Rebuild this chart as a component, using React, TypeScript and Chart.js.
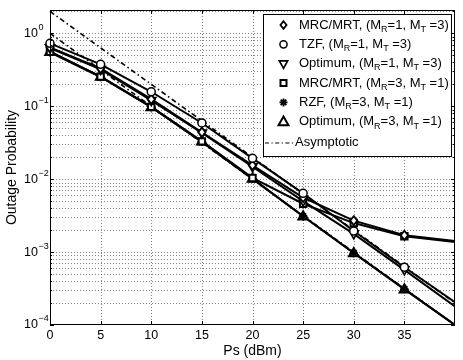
import React, { useEffect, useRef } from 'react';
import { Chart, registerables } from 'chart.js';

Chart.register(...registerables);

// ---------------- data ----------------
const psDbm = [0, 5, 10, 15, 20, 25, 30, 35, 40];

const mrcA = [0.64, 0.33, 0.125, 0.044, 0.0155, 0.0056, 0.0027, 0.0017, 0.00142];
const tzfA = [0.73, 0.376, 0.158, 0.059, 0.0193, 0.0064, 0.00195, 0.00062, 0.000205];
const optA = [0.63, 0.32, 0.12, 0.043, 0.0148, 0.0050, 0.00178, 0.00057, 0.00018];
const mrcB = [0.56, 0.255, 0.098, 0.033, 0.0104, 0.0046, 0.0025, 0.00165, 0.00138];
const rzfB = [0.55, 0.252, 0.097, 0.0325, 0.0101, 0.0031, 0.00097, 0.00031, 0.0001];
const optB = [0.56, 0.255, 0.098, 0.033, 0.0102, 0.0031, 0.00097, 0.00031, 0.0001];
const asymA = [2, 0.632, 0.2, 0.0632, 0.02, 0.00632, 0.002, 0.000632, 0.0002];
const asymB = [1, 0.316, 0.1, 0.0316, 0.01, 0.00316, 0.001, 0.000316, 0.0001];

const xTicks = [0, 5, 10, 15, 20, 25, 30, 35];
const yDecades = [1, 0.1, 0.01, 0.001, 0.0001];
const yDecadeExps = ['0', '\u22121', '\u22122', '\u22123', '\u22124'];

const legendLabels = [
  'MRC/MRT, (M_R=1, M_T =3)',
  'TZF, (M_R=1, M_T =3)',
  'Optimum, (M_R=1, M_T =3)',
  'MRC/MRT, (M_R=3, M_T =1)',
  'RZF, (M_R=3, M_T =1)',
  'Optimum, (M_R=3, M_T =1)',
  'Asymptotic',
];

const xTitle = 'Ps (dBm)';
const yTitle = 'Outage Probability';

const FONT = '"Liberation Sans", Arial, Helvetica, sans-serif';

type Marker = 'diamond' | 'circle' | 'triDown' | 'square' | 'star' | 'triUp' | 'none';

const seriesDefs: { data: number[]; marker: Marker; size: number; dash?: number[]; width: number }[] = [
  { data: mrcA, marker: 'diamond', size: 4.5, width: 2 },
  { data: tzfA, marker: 'circle', size: 4, width: 2 },
  { data: optA, marker: 'triDown', size: 5, width: 2 },
  { data: mrcB, marker: 'square', size: 3.2, width: 2 },
  { data: rzfB, marker: 'star', size: 4.2, width: 2 },
  { data: optB, marker: 'triUp', size: 5, width: 2 },
  { data: asymA, marker: 'none', size: 0, dash: [5, 3, 1.5, 3], width: 1.6 },
  { data: asymB, marker: 'none', size: 0, dash: [5, 3, 1.5, 3], width: 1.6 },
];

// order in which markers are painted (last = on top)
const markerPaintOrder = [5, 4, 3, 2, 0, 1];

function drawMarker(ctx: CanvasRenderingContext2D, m: Marker, x: number, y: number, r: number) {
  if (m === 'none') return;
  ctx.save();
  ctx.setLineDash([]);
  ctx.strokeStyle = '#000';
  ctx.fillStyle = '#fff';
  ctx.lineWidth = 1.5;
  ctx.beginPath();
  if (m === 'diamond') {
    ctx.lineWidth = 1.8;
    ctx.moveTo(x, y - r);
    ctx.lineTo(x + r * 0.8, y);
    ctx.lineTo(x, y + r);
    ctx.lineTo(x - r * 0.8, y);
    ctx.closePath();
    ctx.fill();
    ctx.stroke();
  } else if (m === 'circle') {
    ctx.arc(x, y, r, 0, Math.PI * 2);
    ctx.fill();
    ctx.stroke();
  } else if (m === 'triDown') {
    ctx.lineWidth = 1.7;
    ctx.moveTo(x, y + r);
    ctx.lineTo(x + r * 0.9, y - r * 0.6);
    ctx.lineTo(x - r * 0.9, y - r * 0.6);
    ctx.closePath();
    ctx.fill();
    ctx.stroke();
  } else if (m === 'triUp') {
    ctx.lineWidth = 2;
    ctx.moveTo(x, y - r);
    ctx.lineTo(x + r * 0.95, y + r * 0.65);
    ctx.lineTo(x - r * 0.95, y + r * 0.65);
    ctx.closePath();
    ctx.fill();
    ctx.stroke();
  } else if (m === 'square') {
    ctx.lineWidth = 2;
    ctx.rect(x - r, y - r, 2 * r, 2 * r);
    ctx.fill();
    ctx.stroke();
  } else if (m === 'star') {
    ctx.lineWidth = 1.8;
    for (let k = 0; k < 4; k++) {
      const a = (k * Math.PI) / 4;
      ctx.moveTo(x - r * Math.cos(a), y - r * Math.sin(a));
      ctx.lineTo(x + r * Math.cos(a), y + r * Math.sin(a));
    }
    ctx.stroke();
  }
  ctx.restore();
}

function drawRichText(ctx: CanvasRenderingContext2D, text: string, x: number, y: number, size: number) {
  // "_X" => subscript single char
  let cx = x;
  let i = 0;
  while (i < text.length) {
    if (text[i] === '_' && i + 1 < text.length) {
      ctx.font = `${Math.round(size * 0.72)}px ${FONT}`;
      ctx.fillText(text[i + 1], cx, y + size * 0.33);
      cx += ctx.measureText(text[i + 1]).width;
      i += 2;
    } else {
      let j = i;
      while (j < text.length && text[j] !== '_') j++;
      const seg = text.slice(i, j);
      ctx.font = `${size}px ${FONT}`;
      ctx.fillText(seg, cx, y);
      cx += ctx.measureText(seg).width;
      i = j;
    }
  }
}

const matlabPlugin = {
  id: 'matlabLook',
  beforeDatasetsDraw(chart: any) {
    const { ctx, chartArea: a, scales } = chart;
    const xs = scales.x;
    const ys = scales.y;
    ctx.save();
    ctx.strokeStyle = 'rgba(90,90,90,0.75)';
    ctx.lineWidth = 1;
    ctx.setLineDash([1, 2]);
    for (const t of xTicks) {
      if (t === 0) continue;
      const px = Math.round(xs.getPixelForValue(t)) + 0.5;
      ctx.beginPath();
      ctx.moveTo(px, a.top);
      ctx.lineTo(px, a.bottom);
      ctx.stroke();
    }
    for (const d of yDecades) {
      for (let k = 1; k <= 9; k++) {
        const v = d * k;
        if (v > ys.max || v <= ys.min) continue;
        const py = Math.round(ys.getPixelForValue(v)) + 0.5;
        ctx.beginPath();
        ctx.moveTo(a.left, py);
        ctx.lineTo(a.right, py);
        ctx.stroke();
      }
    }
    ctx.restore();
  },
  afterDatasetsDraw(chart: any) {
    const { ctx, chartArea: a, scales } = chart;
    const xs = scales.x;
    const ys = scales.y;
    // markers
    for (const di of markerPaintOrder) {
      const def = seriesDefs[di];
      const ds = chart.data.datasets[di];
      ds.data.forEach((p: any, pi: number) => {
        if (pi === ds.data.length - 1) return;
        drawMarker(ctx, def.marker, xs.getPixelForValue(p.x), ys.getPixelForValue(p.y), def.size);
      });
    }
    ctx.save();
    ctx.setLineDash([]);
    ctx.strokeStyle = '#000';
    ctx.lineWidth = 1;
    ctx.strokeRect(a.left + 0.5, a.top + 0.5, a.right - a.left - 1, a.bottom - a.top - 1);
    ctx.beginPath();
    for (const t of xTicks) {
      const px = Math.round(xs.getPixelForValue(t)) + 0.5;
      ctx.moveTo(px, a.bottom);
      ctx.lineTo(px, a.bottom - 4);
      ctx.moveTo(px, a.top);
      ctx.lineTo(px, a.top + 4);
    }
    for (const d of yDecades) {
      for (let k = 1; k <= 9; k++) {
        const v = d * k;
        if (v > ys.max || v < ys.min) continue;
        const py = Math.round(ys.getPixelForValue(v)) + 0.5;
        const len = k === 1 ? 4 : 2;
        ctx.moveTo(a.left, py);
        ctx.lineTo(a.left + len, py);
        ctx.moveTo(a.right, py);
        ctx.lineTo(a.right - len, py);
      }
    }
    ctx.stroke();

    ctx.fillStyle = '#000';
    ctx.textBaseline = 'middle';
    ctx.textAlign = 'center';
    ctx.font = `12.5px ${FONT}`;
    for (const t of xTicks) {
      ctx.fillText(String(t), xs.getPixelForValue(t), a.bottom + 10.5);
    }
    ctx.textAlign = 'left';
    yDecades.forEach((d, i) => {
      const py = ys.getPixelForValue(d);
      ctx.font = `12.5px ${FONT}`;
      ctx.fillText('10', 24, py);
      const w = ctx.measureText('10').width;
      ctx.font = `9px ${FONT}`;
      ctx.fillText(yDecadeExps[i], 24 + w + 0.5, py - 6);
    });

    ctx.font = `14px ${FONT}`;
    ctx.textAlign = 'center';
    ctx.fillText(xTitle, (a.left + a.right) / 2, 351);
    ctx.save();
    ctx.translate(12.5, (a.top + a.bottom) / 2);
    ctx.rotate(-Math.PI / 2);
    ctx.fillText(yTitle, 0, 0);
    ctx.restore();

    // legend
    const bx = 263, by = 14, bw = 188, bh = 142;
    ctx.fillStyle = '#fff';
    ctx.fillRect(bx, by, bw, bh);
    ctx.strokeStyle = '#000';
    ctx.lineWidth = 1;
    ctx.strokeRect(bx + 0.5, by + 0.5, bw, bh);
    ctx.fillStyle = '#000';
    ctx.textAlign = 'left';
    ctx.textBaseline = 'middle';
    const markers: Marker[] = ['diamond', 'circle', 'triDown', 'square', 'star', 'triUp'];
    const mSizes = [3.8, 3.6, 4.6, 3, 4, 5.2];
    legendLabels.forEach((lab, i) => {
      if (i < 6) {
        const ry = 25 + i * 19.35;
        drawMarker(ctx, markers[i], 283.5, ry, mSizes[i]);
        ctx.fillStyle = '#000';
        drawRichText(ctx, lab, 299, ry, 13);
      } else {
        const ry = 142.5;
        ctx.save();
        ctx.strokeStyle = '#000';
        ctx.lineWidth = 1.2;
        ctx.setLineDash([4, 2.5, 1.2, 2.5]);
        ctx.beginPath();
        ctx.moveTo(265, ry + 0.5);
        ctx.lineTo(294, ry + 0.5);
        ctx.stroke();
        ctx.restore();
        ctx.fillStyle = '#000';
        drawRichText(ctx, lab, 295, ry, 13);
      }
    });
    ctx.restore();
  },
};

export default function App() {
  const ref = useRef<HTMLCanvasElement | null>(null);
  useEffect(() => {
    if (!ref.current) return;
    const chart = new Chart(ref.current, {
      type: 'line',
      data: {
        datasets: seriesDefs.map((s) => ({
          data: psDbm.map((x, i) => ({ x, y: s.data[i] })),
          borderColor: '#000',
          borderWidth: s.width,
          borderDash: s.dash || [],
          pointRadius: 0,
          fill: false,
          tension: 0,
          clip: { left: 10, right: 0, top: 0, bottom: 0 },
        })) as any,
      },
      options: {
        animation: false,
        responsive: false,
        devicePixelRatio: 1,
        layout: { padding: { left: 50, right: 8, top: 10, bottom: 35 } },
        plugins: { legend: { display: false }, tooltip: { enabled: false }, title: { display: false } },
        scales: {
          x: { type: 'linear', min: 0, max: 40, display: false },
          y: { type: 'logarithmic', min: 1e-4, max: 2.09, display: false },
        },
      },
      plugins: [matlabPlugin],
    });
    return () => chart.destroy();
  }, []);
  return (
    <div style={{ position: 'absolute', left: 0, top: 0, width: 463, height: 360, background: '#fff' }}>
      <canvas ref={ref} width={463} height={360} style={{ display: 'block' }} />
    </div>
  );
}
